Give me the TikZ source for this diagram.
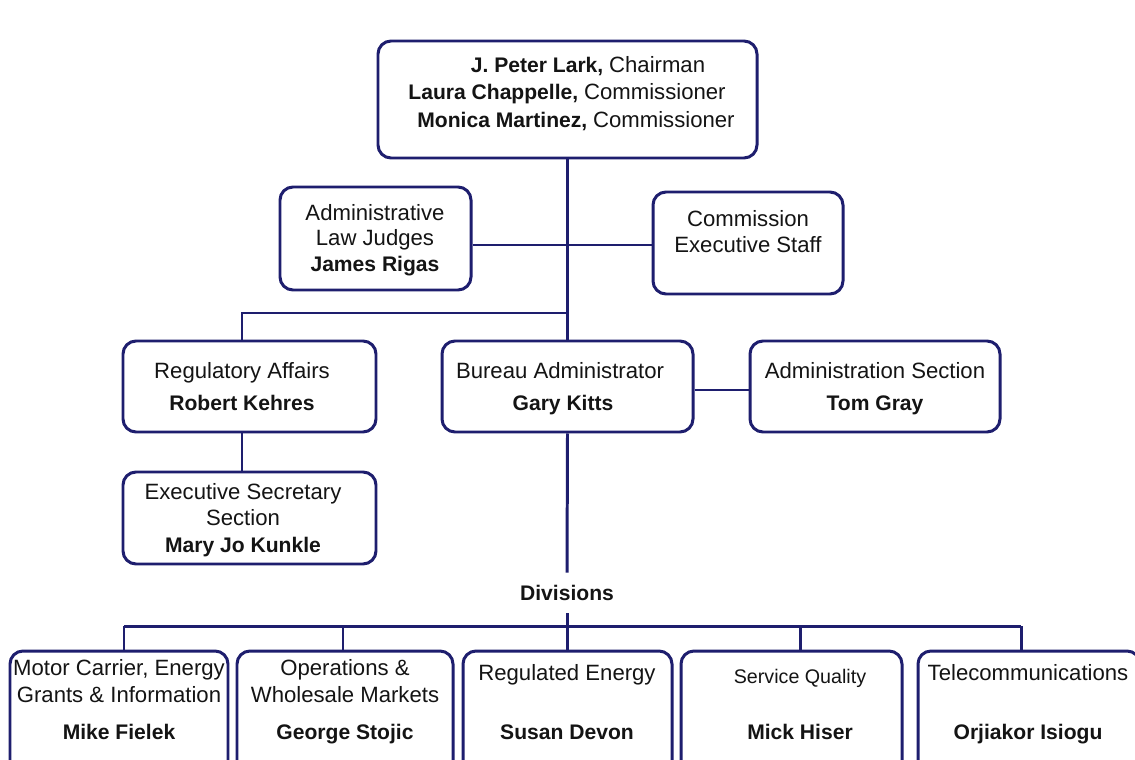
\documentclass[tikz,border=0pt]{standalone}
\usepackage{fontspec}
\setmainfont{Liberation Sans}
\usetikzlibrary{fit}
\definecolor{navy}{RGB}{30,30,110}
\definecolor{ink}{RGB}{20,20,20}
\begin{document}
\begin{tikzpicture}[x=0.02cm,y=-0.02cm,
  box/.style={draw=navy, line width=1.7pt, rounded corners=0.26cm, inner sep=0pt, fill=white},
  wire/.style={draw=navy, line width=1.7pt},
  lbl/.style={font=\fontsize{12.6}{14}\selectfont, inner sep=0pt, text=ink, anchor=base},
  nm/.style={font=\fontsize{12}{14}\selectfont\bfseries, inner sep=0pt, text=ink, anchor=base}]
\useasboundingbox[fill=white] (0,0) rectangle (1135,760);

% boxes
\node[box, fit={(378,41) (757,158)}] (top) {};
\node[box, fit={(280,187) (471,290)}] (alj) {};
\node[box, fit={(653,192) (843,294)}] (ces) {};
\node[box, fit={(123,341) (376,432)}] (reg) {};
\node[box, fit={(442,341) (693,432)}] (bur) {};
\node[box, fit={(750,341) (1000,432)}] (adms) {};
\node[box, fit={(123,472) (376,564)}] (exec) {};
\node[box, fit={(10,651) (228,775)}] (b1) {};
\node[box, fit={(237,651) (453,775)}] (b2) {};
\node[box, fit={(463,651) (672,775)}] (b3) {};
\node[box, fit={(681,651) (902,775)}] (b4) {};
\node[box, fit={(918,651) (1140,775)}] (b5) {};

% texts (positions are baselines)
\node[lbl] (t1) at (588,73) {\fontsize{12}{14}\selectfont\textbf{J. Peter Lark,} \fontsize{12.6}{14}\selectfont Chairman};
\node[lbl] (t2) at (567,100) {\fontsize{12}{14}\selectfont\textbf{Laura Chappelle,} \fontsize{12.6}{14}\selectfont Commissioner};
\node[lbl] (t3) at (576,128) {\fontsize{12}{14}\selectfont\textbf{Monica Martinez,} \fontsize{12.6}{14}\selectfont Commissioner};

\node[lbl] (alj1) at (375,220) {Administrative};
\node[lbl] (alj2) at (375,245) {Law Judges};
\node[nm]  (alj3) at (375,271) {James Rigas};

\node[lbl] (ces1) at (748,226) {Commission};
\node[lbl] (ces2) at (748,253) {Executive Staff};

\node[lbl] (reg1) at (242,378) {Regulatory Affairs};
\node[nm]  (reg2) at (242,410) {Robert Kehres};

\node[lbl] (bur1) at (560,378) {Bureau Administrator};
\node[nm]  (bur2) at (563,410) {Gary Kitts};

\node[lbl] (adm1) at (875,378) {Administration Section};
\node[nm]  (adm2) at (875,410) {Tom Gray};

\node[lbl] (ex1) at (243,499) {Executive Secretary};
\node[lbl] (ex2) at (243,525) {Section};
\node[nm]  (ex3) at (243,552) {Mary Jo Kunkle};

\node[nm, anchor=center, minimum height=0.8cm] (div) at (567,593) {Divisions};

\node[lbl] (b1a) at (119,675) {Motor Carrier, Energy};
\node[lbl] (b1b) at (119,702) {Grants \& Information};
\node[nm]  (b1c) at (119,739) {Mike Fielek};
\node[lbl] (b2a) at (345,675) {Operations \&};
\node[lbl] (b2b) at (345,702) {Wholesale Markets};
\node[nm]  (b2c) at (345,739) {George Stojic};
\node[lbl] (b3a) at (567,680) {Regulated Energy};
\node[nm]  (b3c) at (567,739) {Susan Devon};
\node[lbl, font=\fontsize{11.2}{13}\selectfont] (b4a) at (800,683) {Service Quality};
\node[nm]  (b4c) at (800,739) {Mick Hiser};
\node[lbl] (b5a) at (1028,680) {Telecommunications};
\node[nm]  (b5c) at (1028,739) {Orjiakor Isiogu};

% connectors
\coordinate (jA) at (567,245);
\coordinate (jB) at (567,313);
\coordinate (jR) at (242,313);
\coordinate (jC) at (720,390);
\coordinate (h0) at (567,626);
\coordinate (h1) at (124,626);
\coordinate (h2) at (343,626);
\coordinate (h4) at (800,626);
\coordinate (h5) at (1021,626);

\draw[wire] (top.south) -- (bur.north);
\draw[wire] (alj.east |- jA) -- (ces.west |- jA);
\draw[wire] (jB) -- (jR) -- (jR |- reg.north);
\draw[wire] (reg.south -| jR) -- (exec.north -| jR);
\draw[wire] (bur.east |- jC) -- (adms.west |- jC);
\draw[wire] (bur.south) -- (div.north);
\draw[wire] (div.south) -- (h0);
\draw[wire] (h1) -- (h5);
\draw[wire] (h1) -- (h1 |- b1.north);
\draw[wire] (h2) -- (h2 |- b2.north);
\draw[wire] (h0) -- (h0 |- b3.north);
\draw[wire] (h4) -- (h4 |- b4.north);
\draw[wire] (h5) -- (h5 |- b5.north);
\end{tikzpicture}
\end{document}
